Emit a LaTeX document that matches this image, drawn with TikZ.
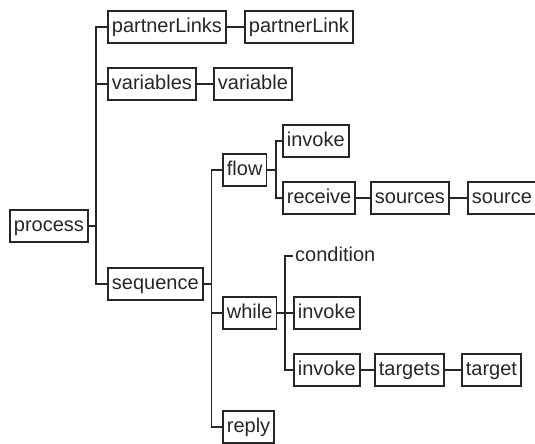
\documentclass[tikz,border=0pt]{standalone}
\usepackage{fontspec}
\setmainfont{Liberation Sans}
\begin{document}
\begin{tikzpicture}[x=1pt,y=-1pt,
  every node/.style={font=\fontsize{20}{22}\selectfont, text=black!85},
  elem/.style={draw=black!85, line width=1.8pt, anchor=west, inner xsep=4pt,
    inner ysep=0pt, minimum height=32pt, text height=14.5pt, text depth=4pt},
  plain/.style={anchor=west, inner xsep=2pt, inner ysep=0pt, text height=14.5pt, text depth=4pt},
  link/.style={draw=black!85, line width=1.8pt}]
\useasboundingbox (0,0) rectangle (535,444);

% element boxes (west edge, vertical centre)
\node[elem] (process)      at (9,226)   {process};
\node[elem] (partnerLinks) at (107,27)  {partnerLinks};
\node[elem] (partnerLink)  at (244,27)  {partnerLink};
\node[elem] (variables)    at (107,84)  {variables};
\node[elem] (variable)     at (213,84)  {variable};
\node[elem] (sequence)     at (107,284) {sequence};
\node[elem] (flow)         at (222,170) {flow};
\node[elem] (invokeA)      at (282,141) {invoke};
\node[elem] (receive)      at (282,198) {receive};
\node[elem] (sources)      at (370,198) {sources};
\node[elem] (source)       at (467,198) {source};
\node[elem] (while)        at (222,313) {while};
\node[plain] (condition)   at (293,256) {condition};
\node[elem] (invokeB)      at (293,313) {invoke};
\node[elem] (invokeC)      at (293,370) {invoke};
\node[elem] (targets)      at (374,370) {targets};
\node[elem] (target)       at (461,370) {target};
\node[elem] (reply)        at (222,427) {reply};

% parent-to-children brackets
\foreach \c in {partnerLinks,variables,sequence}
  \draw[link] (process.east) -- ++(7,0) |- (\c.west);
\foreach \c in {flow,while,reply}
  \draw[link] (sequence.east) -- ++(8,0) |- (\c.west);
\foreach \c in {invokeA,receive}
  \draw[link] (flow.east) -- ++(9,0) |- (\c.west);
\foreach \c in {condition,invokeB,invokeC}
  \draw[link] (while.east) -- ++(8,0) |- (\c.west);

% single-child links
\draw[link] (partnerLinks.east) -- (partnerLink.west);
\draw[link] (variables.east) -- (variable.west);
\draw[link] (receive.east) -- (sources.west);
\draw[link] (sources.east) -- (source.west);
\draw[link] (invokeC.east) -- (targets.west);
\draw[link] (targets.east) -- (target.west);
\end{tikzpicture}
\end{document}
